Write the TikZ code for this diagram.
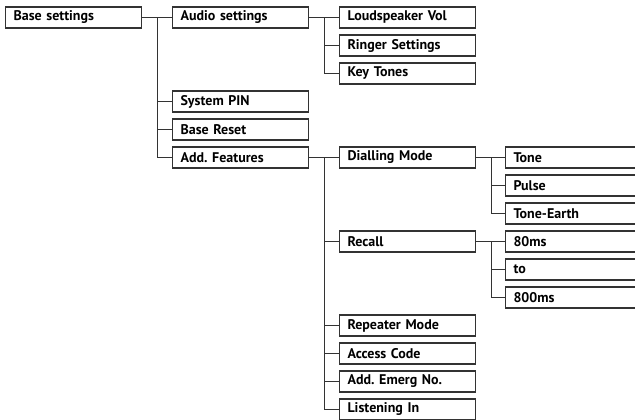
\documentclass[tikz,border=0pt]{standalone}
\usepackage{fontspec}
\setmainfont{PT Sans}
\frenchspacing
\definecolor{linec}{HTML}{333333}
\begin{document}
\begin{tikzpicture}[x=1pt,y=1pt,
  item/.style={draw=linec, line width=1.1pt, rectangle, anchor=west,
    minimum width=136pt, minimum height=21pt, inner xsep=8pt, inner ysep=0pt,
    text width=120pt, align=left, font=\fontsize{14}{16}\selectfont\bfseries},
  conn/.style={draw=linec, line width=1.1pt}]
\useasboundingbox (0,0) rectangle (635,-420);
% column 0
\node[item] (base) at (5,{-17.5}) {Base settings};
% column 1
\node[item] (audio) at (172,{-17.5}) {Audio settings};
\node[item] (pin) at (172,{-17.5-28*3}) {System PIN};
\node[item] (reset) at (172,{-17.5-28*4}) {Base Reset};
\node[item] (feat) at (172,{-17.5-28*5}) {Add.\ Features};
% column 2
\node[item] (loud) at (339,{-17.5}) {Loudspeaker Vol};
\node[item] (ring) at (339,{-17.5-28*1}) {Ringer Settings};
\node[item] (keys) at (339,{-17.5-28*2}) {Key Tones};
\node[item] (dial) at (339,{-17.5-28*5}) {Dialling Mode};
\node[item] (recall) at (339,{-17.5-28*8}) {Recall};
\node[item] (rep) at (339,{-17.5-28*11}) {Repeater Mode};
\node[item] (acc) at (339,{-17.5-28*12}) {Access Code};
\node[item] (emerg) at (339,{-17.5-28*13}) {Add.\ Emerg No.};
\node[item] (listen) at (339,{-17.5-28*14}) {Listening In};
% column 3
\node[item] (tone) at (505,{-17.5-28*5}) {Tone};
\node[item] (pulse) at (505,{-17.5-28*6}) {Pulse};
\node[item] (earth) at (505,{-17.5-28*7}) {Tone-Earth};
\node[item] (ms80) at (505,{-17.5-28*8}) {80ms};
\node[item] (to) at (505,{-17.5-28*9}) {to};
\node[item] (ms800) at (505,{-17.5-28*10}) {800ms};
% connectors
\foreach \c in {audio,pin,reset,feat} \draw[conn] (base.east) -- ++(15.5,0) |- (\c.west);
\foreach \c in {loud,ring,keys} \draw[conn] (audio.east) -- ++(15.5,0) |- (\c.west);
\foreach \c in {dial,recall,rep,acc,emerg,listen} \draw[conn] (feat.east) -- ++(15.5,0) |- (\c.west);
\foreach \c in {tone,pulse,earth} \draw[conn] (dial.east) -- ++(15.5,0) |- (\c.west);
\foreach \c in {ms80,to,ms800} \draw[conn] (recall.east) -- ++(15.5,0) |- (\c.west);
\end{tikzpicture}
\end{document}
